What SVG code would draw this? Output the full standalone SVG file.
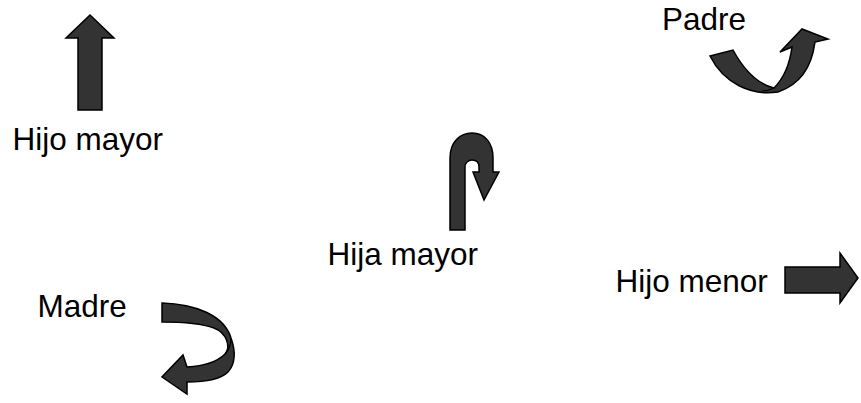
<svg xmlns="http://www.w3.org/2000/svg" width="861" height="403" viewBox="0 0 861 403">
<style>
.lbl{font-family:"Liberation Sans",Arial,sans-serif;font-size:31.5px;fill:#000}
.arr{fill:#333333;stroke:#000;stroke-width:1.5;stroke-linejoin:miter}
.tw{fill:none;stroke:#000;stroke-width:1.2}
</style>
<rect width="861" height="403" fill="#fff"/>
<g id="hijo-mayor">
<path class="arr" d="M78,110 L78,38 L66,38 L90,15 L114,38 L102,38 L102,110 Z"/>
<text class="lbl" x="12.5" y="150">Hijo mayor</text>
</g>
<g id="padre">
<path class="arr" d="M710,56 L733,50 C745,72 758,84 774,88 C784,78 790,62 792,47 L780,52 L802,29 L828,39 L815,42 C812,65 802,84 778,92 C752,96 724,84 710,56 Z"/>
<path class="tw" d="M774,88 C770,90 766,91 762,91"/>
<text class="lbl" x="662" y="30">Padre</text>
</g>
<g id="hija-mayor">
<path class="arr" d="M450,230 L450,158 C450,142 460,133 472,133 C485,133 493,143 493,158 L493,172 L499,172 L484,200 L473,172 L479,172 L479,167 C479,162 476,160 472,160 C468,160 465,163 465,167 L465,230 Z"/>
<text class="lbl" x="327.5" y="265">Hija mayor</text>
</g>
<g id="hijo-menor">
<path class="arr" d="M785,267 L840,267 L840,253 L858,278 L840,303 L840,293 L785,293 Z"/>
<text class="lbl" x="615.5" y="292">Hijo menor</text>
</g>
<g id="madre">
<path class="arr" d="M162,303 C195,304 224,315 231,338 C236,352 235,364 228,372 C220,380 205,382 187,382 L187,394 L162,377 L183,355 L187,367 C204,366 217,362 225,354 C231,347 227,333 214,328 C200,323 180,322 162,322 Z"/>
<path class="tw" d="M225,354 C229,350 231,345 231,338"/>
<text class="lbl" x="37.5" y="317">Madre</text>
</g>
<g id="connectors"></g>
</svg>
